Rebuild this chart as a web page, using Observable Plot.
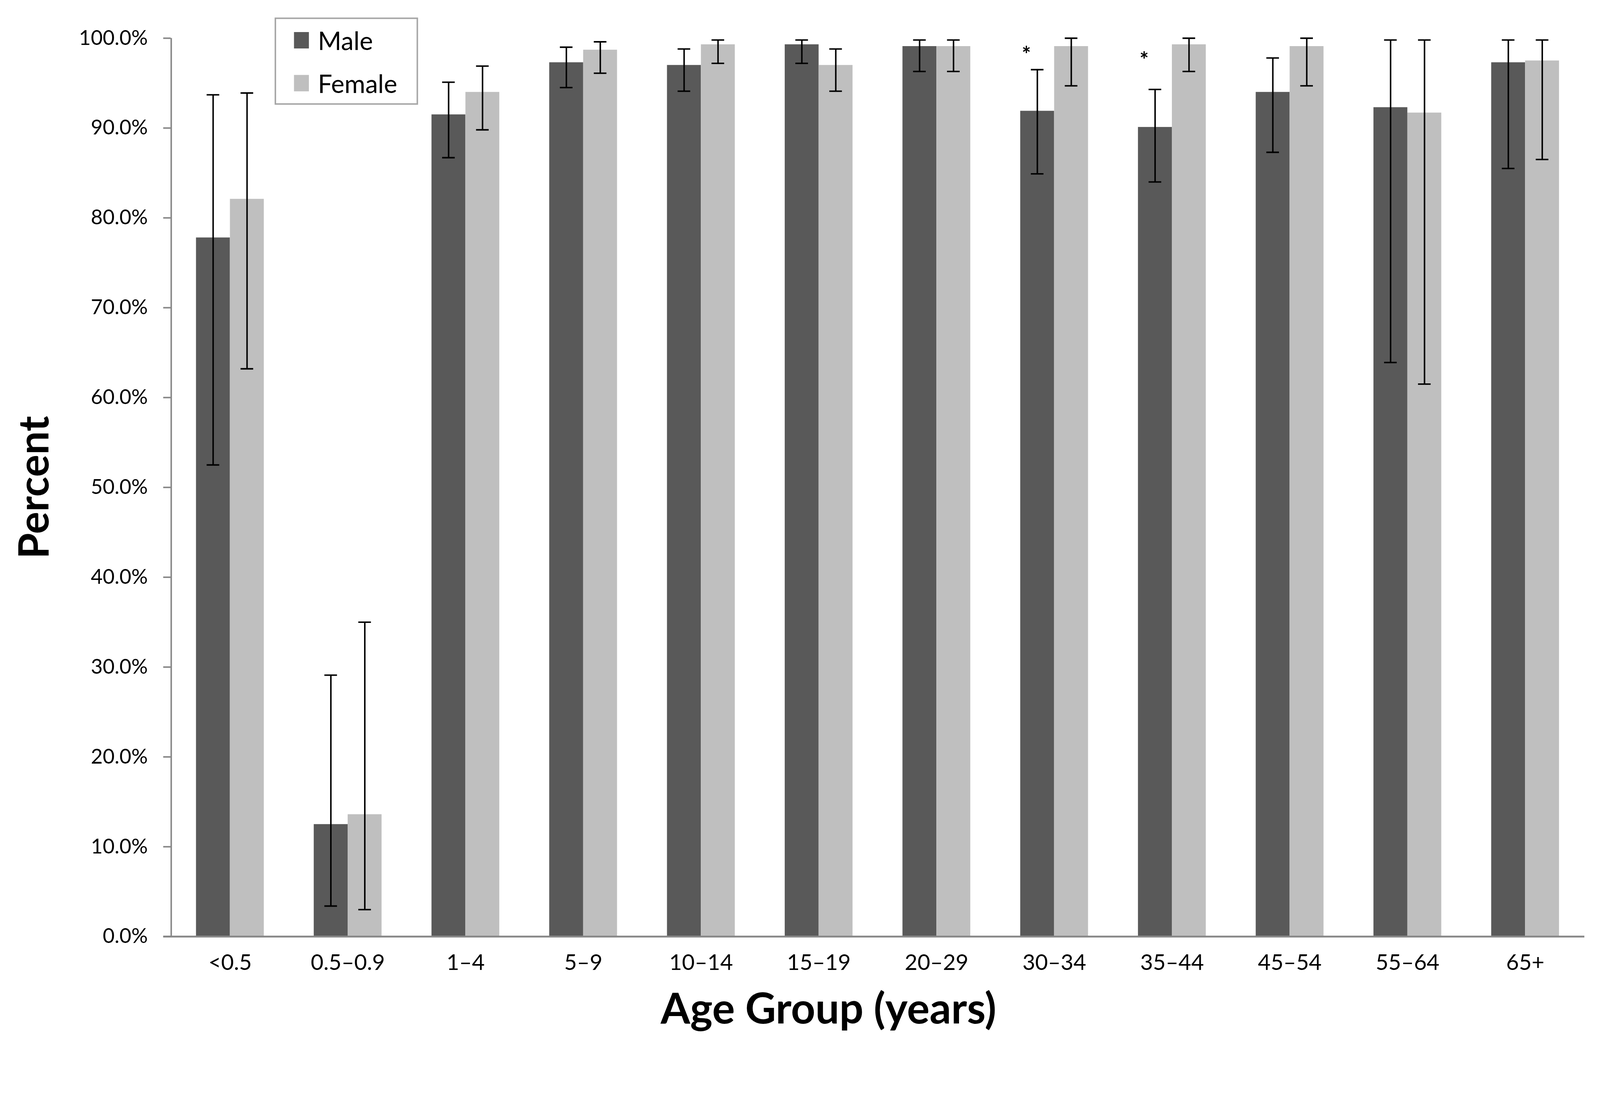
<!DOCTYPE html>
<html>
<head>
<meta charset="utf-8">
<script src="https://cdn.jsdelivr.net/npm/d3@7"></script>
<script src="https://cdn.jsdelivr.net/npm/@observablehq/plot@0.6"></script>
<style>
  html, body { margin: 0; padding: 0; background: #fff; overflow: hidden; }
  #wrap { position: relative; width: 4294px; height: 2802px; font-family: Lato, "Open Sans", sans-serif; transform-origin: 0 0; }
  #chart svg { display: block; }
  #legend { position: absolute; left: 737px; top: 47px; width: 377px; height: 226px; border: 4px solid #a6a6a6; background: #fff; }
  .item { position: absolute; left: 48px; height: 68px; display: flex; align-items: center; font-size: 68px; color: #000; line-height: 1; }
  .sw { width: 40px; height: 44px; margin-right: 24px; }
</style>
</head>
<body>
<div id="wrap">
  <div id="chart"></div>
  <div id="legend">
    <div class="item" style="top:23px"><div class="sw" style="background:#595959"></div><span>Male</span></div>
    <div class="item" style="top:138px"><div class="sw" style="background:#bfbfbf"></div><span>Female</span></div>
  </div>
</div>
<script>
// ---- data ----
const groups = ["<0.5", "0.5–0.9", "1–4", "5–9", "10–14", "15–19", "20–29", "30–34", "35–44", "45–54", "55–64", "65+"];
const maleValues   = [77.8, 12.5, 91.5, 97.3, 97.0, 99.3, 99.1, 91.9, 90.1, 94.0, 92.3, 97.3];
const maleLower    = [52.5,  3.4, 86.7, 94.5, 94.1, 97.2, 96.3, 84.9, 84.0, 87.3, 63.9, 85.5];
const maleUpper    = [93.7, 29.1, 95.1, 99.0, 98.8, 99.8, 99.8, 96.5, 94.3, 97.8, 99.8, 99.8];
const femaleValues = [82.1, 13.6, 94.0, 98.7, 99.3, 97.0, 99.1, 99.1, 99.3, 99.1, 91.7, 97.5];
const femaleLower  = [63.2,  3.0, 89.8, 96.1, 97.2, 94.1, 96.3, 94.7, 96.3, 94.7, 61.5, 86.5];
const femaleUpper  = [93.9, 35.0, 96.9, 99.6, 99.8, 98.8, 99.8, 100.0, 100.0, 100.0, 99.8, 99.8];
const starGroups = ["30–34", "35–44"];
const starValues = [98.7, 98.1];
const yTickValues = [0, 10, 20, 30, 40, 50, 60, 70, 80, 90, 100];
const sexes = ["Male", "Female"];
const sexColors = ["#595959", "#bfbfbf"];

// ---- tables built from the arrays ----
const maleRows = groups.map((g, i) => ({group: g, sex: "Male", value: maleValues[i], lo: maleLower[i], hi: maleUpper[i]}));
const femaleRows = groups.map((g, i) => ({group: g, sex: "Female", value: femaleValues[i], lo: femaleLower[i], hi: femaleUpper[i]}));
const stars = starGroups.map((g, i) => ({group: g, y: starValues[i]}));

// ---- layout ----
const W = 4294, H = 2802;
const ML = 458, MR = 42, MT = 102, MB = 290;
const padInner = 0.424;
const step = (W - ML - MR) / groups.length;
const bw = step * (1 - padInner);
const half = bw / 2;
const capW = 34;
const capInset = (bw - capW) / 2;

const chart = Plot.plot({
  width: W,
  height: H,
  marginLeft: ML,
  marginRight: MR,
  marginTop: MT,
  marginBottom: MB,
  style: {fontFamily: "Lato, 'Open Sans', sans-serif", color: "#000", background: "#fff"},
  x: {domain: groups, paddingInner: padInner, paddingOuter: padInner / 2, label: null},
  y: {domain: [0, 100], label: null},
  color: {domain: sexes, range: sexColors},
  marks: [
    Plot.barY(maleRows, {x: "group", y: "value", fill: "sex", insetRight: half}),
    Plot.barY(femaleRows, {x: "group", y: "value", fill: "sex", insetLeft: half}),
    // axis lines
    Plot.ruleX([0], {x: null, dx: -(W - ML - MR) / 2 + 1, stroke: "#868686", strokeWidth: 4}),
    Plot.ruleY([0], {stroke: "#898989", strokeWidth: 5, insetLeft: -20}),
    // error bars
    Plot.ruleX(maleRows, {x: "group", y1: "lo", y2: "hi", dx: -half / 2, stroke: "#000", strokeWidth: 4}),
    Plot.ruleX(femaleRows, {x: "group", y1: "lo", y2: "hi", dx: half / 2, stroke: "#000", strokeWidth: 4}),
    Plot.tickY(maleRows, {x: "group", y: "hi", dx: -half / 2, insetLeft: capInset, insetRight: capInset, stroke: "#000", strokeWidth: 4}),
    Plot.tickY(maleRows, {x: "group", y: "lo", dx: -half / 2, insetLeft: capInset, insetRight: capInset, stroke: "#000", strokeWidth: 4}),
    Plot.tickY(femaleRows, {x: "group", y: "hi", dx: half / 2, insetLeft: capInset, insetRight: capInset, stroke: "#000", strokeWidth: 4}),
    Plot.tickY(femaleRows, {x: "group", y: "lo", dx: half / 2, insetLeft: capInset, insetRight: capInset, stroke: "#000", strokeWidth: 4}),
    // significance marks
    Plot.text(stars, {x: "group", y: "y", text: () => "*", dx: -75, dy: 14, fontSize: 58, fontWeight: "bold", fill: "#000"}),
    // axes
    Plot.axisY({ticks: yTickValues, tickFormat: d => d.toFixed(1) + "%", tickSize: 20, tickPadding: 42,
      stroke: "#868686", strokeWidth: 4, fill: "#000", fontSize: 55, label: null}),
    Plot.axisX({tickSize: 0, tickPadding: 48, fontSize: 59, fill: "#000", label: null}),
    // titles
    Plot.text(["Age Group (years)"], {frameAnchor: "bottom", lineAnchor: "middle", textAnchor: "middle", dx: -132, dy: 197, fontSize: 114, fontWeight: "bold", fill: "#000"}),
    Plot.text(["Percent"], {frameAnchor: "left", lineAnchor: "middle", textAnchor: "middle", dx: -364, rotate: -90, fontSize: 112, fontWeight: "bold", fill: "#000"})
  ]
});
document.getElementById("chart").appendChild(chart);

// fit the fixed 4294×2802 drawing to the actual viewport
function fit() {
  const s = Math.min(window.innerWidth / W, window.innerHeight / H);
  document.getElementById("wrap").style.transform = `scale(${s})`;
}
fit();
window.addEventListener("resize", fit);
</script>
</body>
</html>
